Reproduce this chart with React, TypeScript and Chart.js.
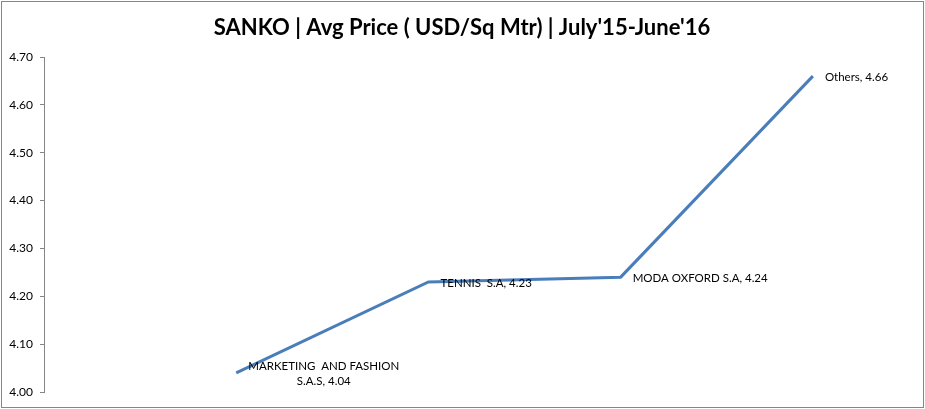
import React, { useEffect, useRef } from "react";
import { Chart, registerables } from "chart.js";

Chart.register(...registerables);

const title = "SANKO | Avg Price ( USD/Sq Mtr) | July'15-June'16";
const categories = ["MARKETING  AND FASHION S.A.S", "TENNIS  S.A", "MODA OXFORD S.A", "Others"];
const values = [4.04, 4.23, 4.24, 4.66];
const yTicks = [4.0, 4.1, 4.2, 4.3, 4.4, 4.5, 4.6, 4.7];

const FONT = "Lato, 'Open Sans', sans-serif";

function wrap(ctx: CanvasRenderingContext2D, text: string, maxW: number): string[] {
  const words = text.split(" ");
  const lines: string[] = [];
  let cur = "";
  for (let i = 0; i < words.length; i++) {
    const w = words[i];
    const test = i === 0 ? w : cur + " " + w;
    if (cur !== "" && w !== "" && ctx.measureText(test).width > maxW) {
      lines.push(cur.trimEnd());
      cur = w;
    } else {
      cur = test;
    }
  }
  if (cur) lines.push(cur);
  return lines;
}

const framePlugin = {
  id: "frame",
  beforeDraw(chart: any) {
    const ctx = chart.ctx as CanvasRenderingContext2D;
    ctx.save();
    ctx.fillStyle = "#ffffff";
    ctx.fillRect(0, 0, chart.width, chart.height);
    ctx.strokeStyle = "#868686";
    ctx.lineWidth = 1;
    ctx.strokeRect(1.5, 1.5, chart.width - 3, chart.height - 3);
    ctx.fillStyle = "#000000";
    ctx.font = `bold 22px ${FONT}`;
    ctx.textAlign = "center";
    ctx.textBaseline = "middle";
    ctx.fillText(title, 462, 28);
    ctx.restore();
  },
  afterDatasetsDraw(chart: any) {
    const ctx = chart.ctx as CanvasRenderingContext2D;
    const meta = chart.getDatasetMeta(0);
    ctx.save();
    ctx.font = `11.5px ${FONT}`;
    ctx.fillStyle = "#000000";
    ctx.textBaseline = "middle";
    meta.data.forEach((pt: any, i: number) => {
      const text = `${categories[i]}, ${values[i].toFixed(2)}`;
      const lines = wrap(ctx, text, 165);
      const widths = lines.map((l) => ctx.measureText(l).width);
      const blockW = Math.max(...widths);
      const lh = 15.5;
      const left = pt.x + 12;
      const top = pt.y + 1 - (lh * lines.length) / 2;
      lines.forEach((l, j) => {
        ctx.textAlign = "center";
        ctx.fillText(l, left + blockW / 2, top + lh * j + lh / 2);
      });
    });
    ctx.restore();
  },
};

export default function App() {
  const ref = useRef<HTMLCanvasElement>(null);
  useEffect(() => {
    document.body.style.margin = "0";
    const chart = new Chart(ref.current!, {
      type: "line",
      data: {
        datasets: [
          {
            data: values.map((v, i) => ({ x: i + 1, y: v })),
            borderColor: "#4A7EBB",
            borderWidth: 3,
            pointRadius: 0,
            tension: 0,
            fill: false,
          },
        ],
      },
      options: {
        animation: false,
        responsive: false,
        layout: { padding: { top: 57, bottom: 17, right: 16, left: 0 } },
        plugins: { legend: { display: false }, tooltip: { enabled: false }, title: { display: false } },
        scales: {
          x: { type: "linear", min: 0, max: 4.5, display: false },
          y: {
            min: 4.0,
            max: 4.7,
            afterFit: (s: any) => {
              s.width = 44;
            },
            afterBuildTicks: (s: any) => {
              s.ticks = yTicks.map((v) => ({ value: v }));
            },
            grid: { drawOnChartArea: false, drawTicks: true, tickLength: 4, color: "#868686" },
            border: { display: true, color: "#868686" },
            ticks: {
              padding: 7,
              color: "#000000",
              font: { family: FONT, size: 12 },
              callback: (v: any) => Number(v).toFixed(2),
            },
          },
        },
      },
      plugins: [framePlugin],
    });
    return () => chart.destroy();
  }, []);
  return (
    <div style={{ width: 925, height: 409 }}>
      <canvas ref={ref} width={925} height={409} style={{ display: "block" }} />
    </div>
  );
}
